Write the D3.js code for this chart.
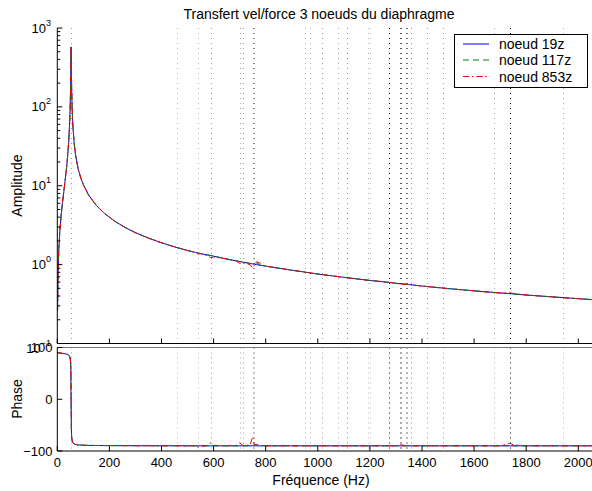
<!DOCTYPE html>
<html><head><meta charset="utf-8">
<script src="https://cdn.jsdelivr.net/npm/d3@7"></script>
<style>
body{margin:0;background:#fff}
svg{display:block;font-family:"Liberation Sans",Arial,Helvetica,sans-serif}
</style>
</head><body>
<svg id="c" width="592" height="491"></svg>
<script>
// ---------------- data ----------------
const freq = [1,3,6,10,15,20,25,30,35,40,44,47,49,51,52,53,54,55,57,60,65,70,80,90,100,120,150,180,220,260,300,350,400,450,500,530,541,550,575,590,600,650,690,701,710,740,750,755,765,780,800,900,1000,1100,1200,1274,1300,1320,1340,1400,1500,1600,1700,1738,1750,1800,1900,2000,2060];

const amp19 = [0.263,0.79,1.60,2.72,4.28,6.13,8.45,11.6,16.3,24.4,37.2,57.5,87.6,173,308,575,313,179,94.3,55.7,33.9,24.7,16.4,12.6,10.3,7.64,5.62,4.49,3.56,2.96,2.54,2.17,1.89,1.68,1.51,1.43,1.40,1.38,1.33,1.30,1.28,1.18,1.11,1.095,1.08,1.035,1.02,1.015,1.00,0.98,0.955,0.85,0.76,0.69,0.63,0.595,0.58,0.572,0.564,0.535,0.497,0.465,0.437,0.428,0.425,0.412,0.39,0.37,0.359];

const amp117 = [0.263,0.79,1.60,2.72,4.28,6.13,8.45,11.6,16.3,24.4,37.2,57.5,87.6,173,308,575,313,179,94.3,55.7,33.9,24.7,16.4,12.6,10.3,7.64,5.62,4.49,3.56,2.96,2.54,2.17,1.89,1.68,1.51,1.43,1.40,1.38,1.33,1.30,1.28,1.18,1.11,1.095,1.08,1.035,1.03,1.05,1.05,0.99,0.955,0.85,0.76,0.69,0.63,0.595,0.58,0.572,0.564,0.535,0.497,0.465,0.437,0.428,0.425,0.412,0.39,0.37,0.359];

const amp853 = [0.263,0.79,1.60,2.72,4.28,6.13,8.45,11.6,16.3,24.4,37.2,57.5,87.6,173,308,575,313,179,94.3,55.7,33.9,24.7,16.4,12.6,10.3,7.64,5.62,4.49,3.56,2.96,2.54,2.17,1.89,1.68,1.51,1.43,1.36,1.38,1.30,1.22,1.25,1.18,1.10,1.03,1.06,1.00,0.90,0.96,1.09,1.04,0.96,0.85,0.76,0.69,0.63,0.595,0.58,0.56,0.564,0.535,0.497,0.465,0.437,0.44,0.432,0.412,0.39,0.37,0.359];

const phase19 = [89.9,89.8,89.6,89.3,89,88.6,88.2,87.8,87.3,86.5,85,83,80,72,58,0,-57,-72,-80.6,-84.4,-86.4,-87.3,-88.2,-88.6,-88.9,-89.2,-89.4,-89.5,-89.6,-89.7,-89.8,-89.8,-89.9,-89.9,-90,-90,-90,-90,-90,-90,-90,-90,-90,-90,-90,-90,-90,-90,-90,-90,-90,-90,-90,-90,-90,-90,-90,-90,-90,-90,-90,-90,-90,-90,-90,-90,-90,-90,-90];

const phase117 = [89.9,89.8,89.6,89.3,89,88.6,88.2,87.8,87.3,86.5,85,83,80,72,58,0,-57,-72,-80.6,-84.4,-86.4,-87.3,-88.2,-88.6,-88.9,-89.2,-89.4,-89.5,-89.6,-89.7,-89.8,-89.8,-89.9,-89.9,-90,-90,-90,-90,-90,-90,-90,-90,-90,-90,-90,-90,-89,-88.5,-87,-89.5,-90,-90,-90,-90,-90,-90,-90,-90,-90,-90,-90,-90,-90,-90,-90,-90,-90,-90,-90];

const phase853 = [89.9,89.8,89.6,89.3,89,88.6,88.2,87.8,87.3,86.5,85,83,80,72,58,0,-57,-72,-80.6,-84.4,-86.4,-87.3,-88.2,-88.6,-88.9,-89.2,-89.4,-89.5,-89.6,-89.7,-89.8,-89.8,-89.9,-89.9,-90,-90,-93,-91,-89.5,-84,-89,-90,-89,-84,-89,-89,-72,-86,-88.5,-89.5,-90,-90,-90,-90,-90,-90,-90,-88,-90,-90,-90,-90,-90,-85,-88,-90,-90,-90,-90];

const modeFreqs  = [52.6,458,541,590,701,714,750,755,951,970,1015,1079,1113,1194,1200,1274,1316,1320,1339,1344,1358,1418,1482,1678,1738,1940];
const modeShades = ["#999","#bbb","#bbb","#999","#aaa","#999","#888","#888","#aaa","#aaa","#999","#aaa","#888","#bbb","#bbb","#000","#555","#555","#777","#777","#888","#999","#999","#aaa","#000","#aaa"];

const xTicks = [0,200,400,600,800,1000,1200,1400,1600,1800,2000];
const ampDecades = [0.1,1,10,100,1000];
const ampExponents = ["−1","0","1","2","3"];
const phaseTicks = [-100,0,100];
const seriesNames = ["noeud 19z","noeud 117z","noeud 853z"];
const seriesColors = ["#0000ff","#008000","#ff0000"];
const seriesDash = [null,"6,4","6,3,1.5,3"];
const titleText = "Transfert vel/force 3 noeuds du diaphragme";

// ---------------- layout ----------------
const W = 592, H = 491;
const X0 = 57.3, X1 = 578.3;
const A_TOP = 28, A_BOT = 343.5;
const P_TOP = 347.5, P_BOT = 451;

const svg = d3.select("#c");
const x  = d3.scaleLinear().domain([0,2000]).range([X0,X1]);
const yA = d3.scaleLog().domain([0.1,1000]).range([A_BOT,A_TOP]);
const yP = d3.scaleLinear().domain([-100,100]).range([P_BOT,P_TOP]);

const defs = svg.append("defs");
defs.append("clipPath").attr("id","clipA").append("rect")
  .attr("x",X0).attr("y",A_TOP).attr("width",W-X0).attr("height",A_BOT-A_TOP);
defs.append("clipPath").attr("id","clipP").append("rect")
  .attr("x",X0).attr("y",P_TOP).attr("width",W-X0).attr("height",P_BOT-P_TOP);

// mode (dotted) lines
[[A_TOP,A_BOT],[P_TOP,P_BOT]].forEach(([t,b]) => {
  svg.append("g").selectAll("line").data(modeFreqs).join("line")
    .attr("x1",d=>Math.round(x(d))+0.5).attr("x2",d=>Math.round(x(d))+0.5)
    .attr("y1",t).attr("y2",b)
    .attr("stroke",(d,i)=>modeShades[i]).attr("stroke-width",1)
    .attr("stroke-dasharray","1,4");
});

// curves
const ampSeries = [amp19,amp117,amp853];
const phaseSeries = [phase19,phase117,phase853];
const lineA = d3.line().x(d=>x(d[0])).y(d=>yA(d[1]));
const lineP = d3.line().x(d=>x(d[0])).y(d=>yP(d[1]));
const gA = svg.append("g").attr("clip-path","url(#clipA)");
const gP = svg.append("g").attr("clip-path","url(#clipP)");
ampSeries.forEach((s,i)=>{
  gA.append("path").attr("d",lineA(freq.map((f,k)=>[f,s[k]])))
    .attr("fill","none").attr("stroke",seriesColors[i]).attr("stroke-width",1)
    .attr("stroke-dasharray",seriesDash[i]);
});
phaseSeries.forEach((s,i)=>{
  gP.append("path").attr("d",lineP(freq.map((f,k)=>[f,s[k]])))
    .attr("fill","none").attr("stroke",seriesColors[i]).attr("stroke-width",1)
    .attr("stroke-dasharray",seriesDash[i]);
});

// ----- amplitude axes -----
const axA = svg.append("g");
axA.append("line").attr("x1",X0).attr("x2",X0).attr("y1",A_TOP).attr("y2",A_BOT).attr("stroke","#000");
axA.append("line").attr("x1",X0).attr("x2",W).attr("y1",A_BOT).attr("y2",A_BOT).attr("stroke","#000");
const logTicks = yA.ticks();
axA.selectAll("line.mt").data(logTicks).join("line").attr("class","mt")
  .attr("x1",X0).attr("x2",d=> ampDecades.includes(d) ? X0+5 : X0+3)
  .attr("y1",d=>yA(d)).attr("y2",d=>yA(d)).attr("stroke","#000");
axA.selectAll("line.xt").data(xTicks).join("line").attr("class","xt")
  .attr("x1",d=>x(d)).attr("x2",d=>x(d)).attr("y1",A_BOT).attr("y2",A_BOT-5).attr("stroke","#000");
const lab = axA.selectAll("text.yl").data(ampDecades).join("text").attr("class","yl")
  .attr("x",51).attr("y",(d,i)=>yA(d)+ (i===0?9:4.5))
  .attr("text-anchor","end").attr("font-size",13);
lab.append("tspan").text("10");
lab.append("tspan").attr("font-size",9).attr("dy",-7).text((d,i)=>ampExponents[i]);

// ----- phase axes -----
const axP = svg.append("g");
axP.append("line").attr("x1",X0).attr("x2",W).attr("y1",P_TOP).attr("y2",P_TOP).attr("stroke","#777");
axP.append("line").attr("x1",X0).attr("x2",X0).attr("y1",P_TOP).attr("y2",P_BOT).attr("stroke","#000");
axP.append("line").attr("x1",X0).attr("x2",W).attr("y1",P_BOT).attr("y2",P_BOT).attr("stroke","#000");
axP.selectAll("line.pt").data(phaseTicks).join("line").attr("class","pt")
  .attr("x1",X0).attr("x2",X0+5).attr("y1",d=>yP(d)).attr("y2",d=>yP(d)).attr("stroke","#000");
axP.selectAll("text.pl").data(phaseTicks).join("text").attr("class","pl")
  .attr("x",52.5).attr("y",d=>yP(d)+4.5).attr("text-anchor","end").attr("font-size",13)
  .text(d=> d<0 ? "−"+Math.abs(d) : d);
axP.selectAll("line.xt").data(xTicks).join("line").attr("class","xt")
  .attr("x1",d=>x(d)).attr("x2",d=>x(d)).attr("y1",P_BOT).attr("y2",P_BOT-5).attr("stroke","#000");
axP.selectAll("text.xl").data(xTicks).join("text").attr("class","xl")
  .attr("x",d=>x(d)).attr("y",467).attr("text-anchor","middle").attr("font-size",13)
  .text(d=>d);

// ----- titles -----
svg.append("text").attr("x",319).attr("y",19).attr("text-anchor","middle").attr("font-size",14).text(titleText);
svg.append("text").attr("transform","translate(22,185.5) rotate(-90)").attr("text-anchor","middle").attr("font-size",14).text("Amplitude");
svg.append("text").attr("transform","translate(22,399) rotate(-90)").attr("text-anchor","middle").attr("font-size",14).text("Phase");
svg.append("text").attr("x",321).attr("y",485).attr("text-anchor","middle").attr("font-size",14).text("Fréquence (Hz)");

// ----- legend -----
const lg = svg.append("g");
lg.append("rect").attr("x",454.5).attr("y",34.5).attr("width",133).attr("height",53)
  .attr("fill","#fff").attr("stroke","#000");
const rowsY = [44,60,76.5];
seriesNames.forEach((n,i)=>{
  lg.append("line").attr("x1",463).attr("x2",489).attr("y1",rowsY[i]).attr("y2",rowsY[i])
    .attr("stroke",seriesColors[i]).attr("stroke-width",1).attr("stroke-dasharray",seriesDash[i]);
  lg.append("text").attr("x",499).attr("y",rowsY[i]+5).attr("font-size",14).text(n);
});
</script>
</body></html>
